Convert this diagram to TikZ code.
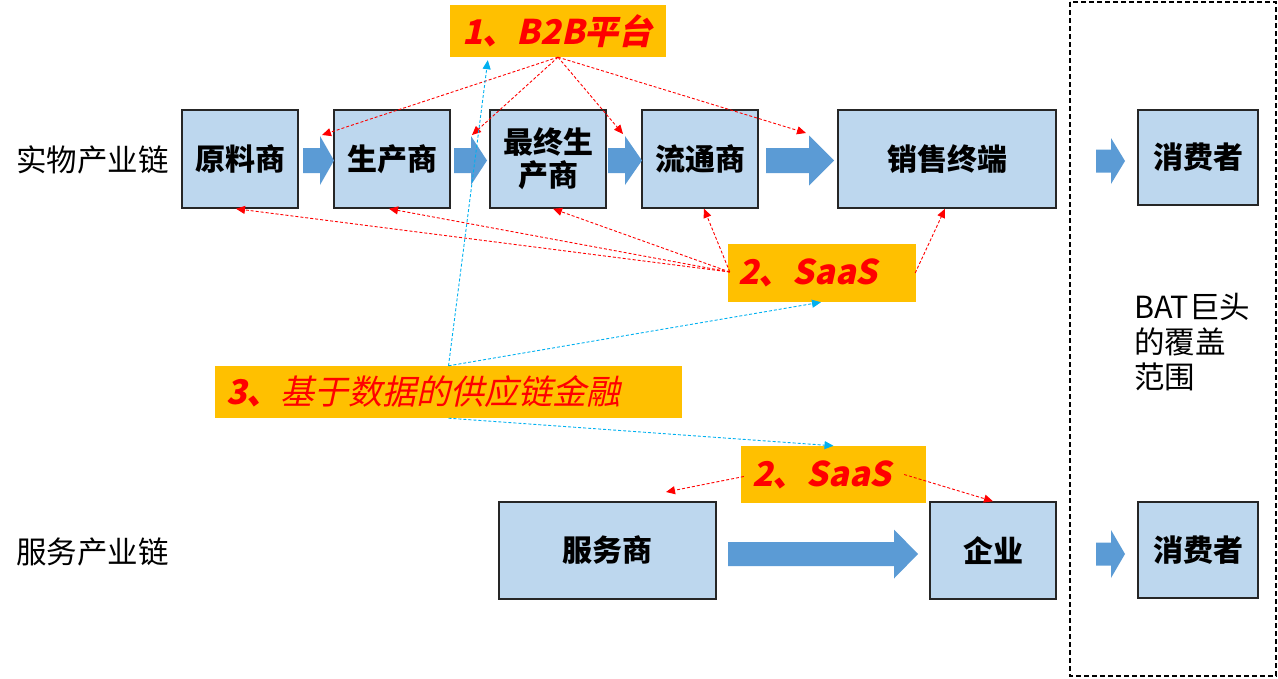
\documentclass[tikz,border=0pt]{standalone}
\usepackage{fontspec}
\setmainfont{Noto Sans CJK SC}
\newfontfamily\slantfont{Noto Sans CJK SC}[UprightFeatures={FakeSlant=0.22}, BoldFeatures={FakeSlant=0.22}]
\usetikzlibrary{arrows.meta,calc}
\definecolor{boxblue}{HTML}{BDD7EE}
\definecolor{tagorange}{HTML}{FFC000}
\definecolor{arrowblue}{HTML}{5B9BD5}
\definecolor{linkblue}{HTML}{00B0F0}
\newcommand{\blockarrow}[6]{% x1, x2 (tip), head base x, ymid, half shaft, half head
  \fill[arrowblue] (#1,#4-#5) -- (#3,#4-#5) -- (#3,#4-#6) -- (#2,#4) -- (#3,#4+#6) -- (#3,#4+#5) -- (#1,#4+#5) -- cycle;}
\tikzset{
  box/.style={draw=black!85, line width=1.5pt, fill=boxblue, align=center, inner sep=0pt,
    font=\bfseries\fontsize{30}{33}\selectfont},
  tag/.style={fill=tagorange, text=red, align=left, inner ysep=0pt,
    font=\slantfont\bfseries\fontsize{34}{38}\selectfont},
  plain/.style={font=\fontsize{30.5}{35}\selectfont, inner sep=0pt, align=left},
  rlink/.style={red, dash pattern=on 3pt off 2pt, line width=0.9pt, -{Triangle[length=9pt,width=8pt]}},
  blink/.style={linkblue, dash pattern=on 3pt off 2pt, line width=0.9pt, -{Triangle[length=9pt,width=8pt]}},
}
\begin{document}
\begin{tikzpicture}[x=1pt,y=-1pt]
\useasboundingbox (0,0) rectangle (1278,678);
% BAT region
\draw[black, line width=1.2pt, dash pattern=on 5pt off 3pt] (1070,2) rectangle (1276,676);
% left labels
\node[plain, anchor=west] (lab1) at (16,160) {实物产业链};
\node[plain, anchor=west] (lab2) at (16,552) {服务产业链};
\node[plain, anchor=north west] (bat) at (1134,293) {BAT巨头\\的覆盖\\范围};
% top row boxes
\node[box, minimum width=116pt, minimum height=98pt] (m1) at (240,159) {原料商};
\node[box, minimum width=116pt, minimum height=98pt] (m2) at (392,159) {生产商};
\node[box, minimum width=116pt, minimum height=98pt] (m3) at (548,159) {最终生\\产商};
\node[box, minimum width=116pt, minimum height=98pt] (m4) at (700,159) {流通商};
\node[box, minimum width=218pt, minimum height=98pt] (m5) at (947,159) {销售终端};
\node[box, minimum width=120pt, minimum height=95pt] (c1) at (1198,157.5) {消费者};
% bottom row boxes
\node[box, minimum width=217pt, minimum height=97pt] (s1) at (607.5,550.5) {服务商};
\node[box, minimum width=126pt, minimum height=97pt] (e1) at (993,550.5) {企业};
\node[box, minimum width=120pt, minimum height=96pt] (c2) at (1198,550) {消费者};
% block arrows
\blockarrow{303}{334}{320}{160.5}{12.5}{24.5}
\blockarrow{454}{487}{471}{160.5}{12.5}{24.5}
\blockarrow{608}{642}{625}{160.5}{12.5}{24.5}
\blockarrow{766}{834}{809}{160.5}{12.5}{25}
\blockarrow{1096}{1125}{1111}{161}{11.5}{23}
\blockarrow{728}{918}{894}{554}{12}{24.5}
\blockarrow{1096}{1125}{1111}{554}{11.5}{24}
% tags
\node[tag, minimum height=52pt, text width=192pt, inner xsep=12pt] (b2b) at (558,31) {1、B2B平台};
\node[tag, minimum height=58pt, text width=168pt, inner xsep=10pt] (saas1) at (822,273) {2、SaaS};
\node[tag, minimum height=52pt, text width=445pt, inner xsep=11pt] (fin) at (448.5,392)
  {3、{\mdseries 基于数据的供应链金融}};
\node[tag, minimum height=57pt, text width=163pt, inner xsep=11pt] (saas2) at (833.5,474.5) {2、SaaS};
% free ends
\coordinate (t1) at (322,135);
\coordinate (t2) at (472,135);
\coordinate (t3) at (623,134);
\coordinate (t4) at (806,133);
\coordinate (sv) at (666,492);
% B2B links
\foreach \t in {t1,t2,t3,t4} \draw[rlink] (b2b.south) -- (\t);
% SaaS top links
\draw[rlink] ($(saas1.west)+(2,-1)$) -- ($(m1.south)+(-4,0)$);
\draw[rlink] ($(saas1.west)+(2,-1)$) -- ($(m2.south)+(-3,0)$);
\draw[rlink] ($(saas1.west)+(2,-1)$) -- ($(m3.south)+(5,0)$);
\draw[rlink] ($(saas1.west)+(2,-1)$) -- ($(m4.south)+(4,0)$);
\draw[rlink] ($(saas1.east)+(-1,0)$) -- ($(m5.south)+(-2,0)$);
% finance links
\draw[blink] (fin.north) -- ($(b2b.south west)+(38,3)$);
\draw[blink] (fin.north) -- ($(saas1.south)+(-1,0)$);
\draw[blink] (fin.south) -- (saas2.north);
% SaaS bottom links
\draw[rlink] ($(saas2.west)+(3,2)$) -- (sv);
\draw[rlink] ($(saas2.east)+(-22,0)$) -- (e1.north);
\end{tikzpicture}
\end{document}
